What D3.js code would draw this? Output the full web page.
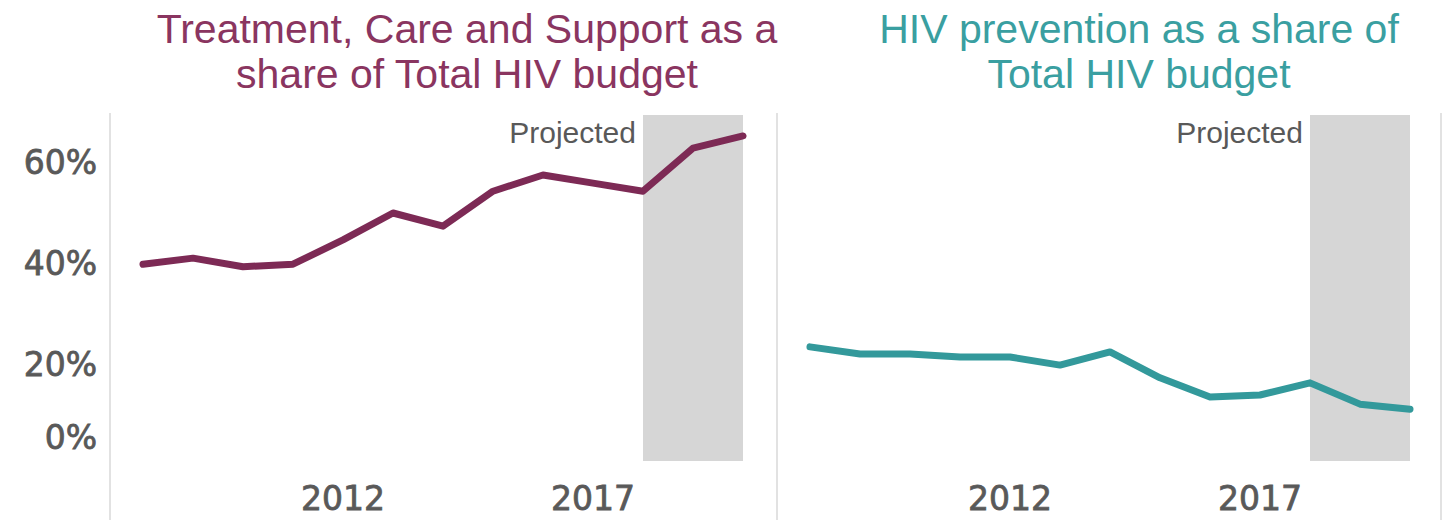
<!DOCTYPE html>
<html>
<head>
<meta charset="utf-8">
<script src="https://cdn.jsdelivr.net/npm/d3@7"></script>
<style>
  html, body { margin: 0; padding: 0; background: #ffffff; }
  svg { display: block; }
</style>
</head>
<body>
<svg id="chart" width="1445" height="520"></svg>
<script>
// Years covered by both series (2018 onwards are projections)
const years = [2008, 2009, 2010, 2011, 2012, 2013, 2014, 2015, 2016, 2017, 2018, 2019, 2020];
const projectedFrom = 2018;

// Share of total HIV budget, in percent
const treatmentShare = [39.8, 41.0, 39.3, 39.8, 44.6, 49.9, 47.3, 54.2, 57.4, 55.8, 54.2, 62.7, 65.1];
const preventionShare = [23.5, 22.1, 22.1, 21.5, 21.5, 19.9, 22.5, 17.4, 13.6, 14.0, 16.4, 12.2, 11.2];

const yTicks = [0, 20, 40, 60];
const xTicks = [2012, 2017];

const panelTitles = [
  ["Treatment, Care and Support as a", "share of Total HIV budget"],
  ["HIV prevention as a share of", "Total HIV budget"]
];

const svg = d3.select("#chart");

const plotTop = 115, plotBottom = 461;
const y = d3.scaleLinear().domain([0, 70]).range([466, 466 - 70 * 5.07]);

const panels = [
  { values: treatmentShare, color: "#7d2a55", titleColor: "#8a3560", range: [143, 743], titleX: 467, titles: panelTitles[0] },
  { values: preventionShare, color: "#33999b", titleColor: "#3a9fa1", range: [810, 1410], titleX: 1139, titles: panelTitles[1] }
];

// Axis label styling shared by both axes
function axisText(sel) {
  sel.attr("font-family", "DejaVu Sans, sans-serif")
    .attr("font-size", 33)
    .attr("fill", "#595959")
    .attr("stroke", "#595959")
    .attr("stroke-width", 0.8);
}

// Panel separators
[110, 777, 1441].forEach(gx => {
  svg.append("line")
    .attr("x1", gx).attr("x2", gx)
    .attr("y1", 113).attr("y2", 520)
    .attr("stroke", "#d9d9d9").attr("stroke-width", 1.5);
});

// Shared y-axis labels; the lowest one is lifted to stay clear of the year labels
svg.append("g").selectAll("text")
  .data(yTicks)
  .join("text")
  .attr("x", 97)
  .attr("y", d => Math.min(y(d), 437))
  .attr("dy", "0.36em")
  .attr("text-anchor", "end")
  .call(axisText)
  .text(d => d + "%");

panels.forEach(p => {
  const x = d3.scaleLinear().domain([years[0], years[years.length - 1]]).range(p.range);
  const g = svg.append("g");

  // Projection band
  g.append("rect")
    .attr("x", x(projectedFrom))
    .attr("y", plotTop)
    .attr("width", x(years[years.length - 1]) - x(projectedFrom))
    .attr("height", plotBottom - plotTop)
    .attr("fill", "#d6d6d6");

  g.append("text")
    .attr("x", x(projectedFrom) - 7)
    .attr("y", 143)
    .attr("text-anchor", "end")
    .attr("font-family", "Liberation Sans, Arial, sans-serif")
    .attr("font-size", 30)
    .attr("fill", "#595959")
    .text("Projected");

  // Series line
  const line = d3.line()
    .x((d, i) => x(years[i]))
    .y(d => y(d));

  g.append("path")
    .datum(p.values)
    .attr("d", line)
    .attr("fill", "none")
    .attr("stroke", p.color)
    .attr("stroke-width", 7)
    .attr("stroke-linejoin", "round")
    .attr("stroke-linecap", "round");

  // Year labels
  g.append("g").selectAll("text")
    .data(xTicks)
    .join("text")
    .attr("x", d => x(d))
    .attr("y", 498)
    .attr("dy", "0.36em")
    .attr("text-anchor", "middle")
    .call(axisText)
    .text(d => d);

  // Panel title
  g.append("text")
    .attr("x", p.titleX)
    .attr("y", 43)
    .attr("text-anchor", "middle")
    .attr("font-family", "Liberation Sans, Arial, sans-serif")
    .attr("font-size", 41)
    .attr("fill", p.titleColor)
    .selectAll("tspan")
    .data(p.titles)
    .join("tspan")
    .attr("x", p.titleX)
    .attr("dy", (d, i) => i === 0 ? 0 : 45)
    .text(d => d);
});
</script>
</body>
</html>
